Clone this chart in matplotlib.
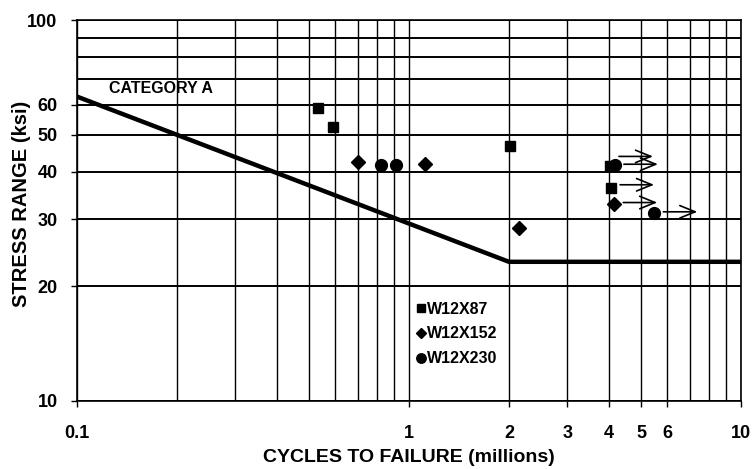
import numpy as np
import matplotlib
matplotlib.use('Agg')
import matplotlib.pyplot as plt
from matplotlib.ticker import FixedLocator, NullFormatter, FixedFormatter
from matplotlib.transforms import offset_copy

plt.rcParams['font.family'] = ['Liberation Sans', 'DejaVu Sans']

# %%
# Category A design curve (cycles in millions, stress range in ksi)
cat_a_cycles = [0.1, 2.0, 10.0]
cat_a_stress = [63.0, 23.2, 23.2]

# test results
w87_cycles = [0.532, 0.589, 2.02, 4.03, 4.06]
w87_stress = [58.8, 52.3, 46.7, 41.3, 36.3]

w152_cycles = [0.703, 1.117, 2.14, 4.15]
w152_stress = [42.5, 41.8, 28.4, 33.0]

w230_cycles = [0.823, 0.914, 4.17, 5.48]
w230_stress = [41.6, 41.6, 41.6, 31.2]

# run-outs (no failure): (series, index)
runouts = [('w87', 3), ('w230', 2), ('w87', 4), ('w152', 3), ('w230', 3)]
runout_lift = [10, 1, 3, 1, 1]  # px, keeps stacked arrows apart

x_ticks = [0.1, 1, 2, 3, 4, 5, 6, 10]
x_grid = [0.1, 0.2, 0.3, 0.4, 0.5, 0.6, 0.7, 0.8, 0.9, 1, 2, 3, 4, 5, 6, 7, 8, 9, 10]
y_ticks = [10, 20, 30, 40, 50, 60, 100]
y_grid = [10, 20, 30, 40, 50, 60, 70, 80, 90, 100]

# %%
fig = plt.figure(figsize=(7.54, 4.69), dpi=100)
ax = fig.add_axes([0.1021, 0.145, 0.8807, 0.812])
ax.set_xscale('log')
ax.set_yscale('log')
ax.set_xlim(0.1, 10)
ax.set_ylim(10, 100)

for gx in x_grid:
    ax.axvline(gx, color='black', lw=1.0, zorder=1)
for gy in y_grid:
    ax.axhline(gy, color='black', lw=1.4, zorder=1)

ax.xaxis.set_major_locator(FixedLocator(x_ticks))
ax.xaxis.set_major_formatter(FixedFormatter([str(t) for t in x_ticks]))
ax.xaxis.set_minor_locator(FixedLocator([]))
ax.xaxis.set_minor_formatter(NullFormatter())
ax.yaxis.set_major_locator(FixedLocator(y_ticks))
ax.yaxis.set_major_formatter(FixedFormatter([str(t) for t in y_ticks]))
ax.yaxis.set_minor_locator(FixedLocator([]))
ax.yaxis.set_minor_formatter(NullFormatter())
ax.tick_params(axis='both', direction='out', length=4, width=1.0, labelsize=13)
ax.tick_params(axis='x', pad=13)
ax.tick_params(axis='y', pad=10)
for lab in ax.get_xticklabels() + ax.get_yticklabels():
    lab.set_fontweight('bold')
for s in ax.spines.values():
    s.set_linewidth(1.2)

ax.plot(cat_a_cycles, cat_a_stress, color='black', lw=3.2, zorder=3)
ax.text(0.125, 66, 'CATEGORY A', fontsize=11.5, fontweight='bold', va='center', zorder=4)

ax.plot(w87_cycles, w87_stress, 's', color='black', ms=7.5, ls='none', label='W12X87', zorder=5)
ax.plot(w152_cycles, w152_stress, 'D', color='black', ms=7, ls='none', label='W12X152', zorder=5)
ax.plot(w230_cycles, w230_stress, 'o', color='black', ms=8.5, ls='none', label='W12X230', zorder=5)

series = {'w87': (w87_cycles, w87_stress),
          'w152': (w152_cycles, w152_stress),
          'w230': (w230_cycles, w230_stress)}
for (name, i), lift in zip(runouts, runout_lift):
    cx, cy = series[name][0][i], series[name][1][i]
    tail = offset_copy(ax.transData, fig=fig, x=9, y=lift, units='dots')
    head = offset_copy(ax.transData, fig=fig, x=43, y=lift, units='dots')
    ax.annotate('', xy=(cx, cy), xycoords=head, xytext=(cx, cy), textcoords=tail,
                arrowprops=dict(arrowstyle='->,head_length=1.1,head_width=0.45',
                                color='black', lw=1.2, shrinkA=0, shrinkB=0),
                zorder=5)

leg = ax.legend(loc='upper left', bbox_to_anchor=(0.503, 0.278), frameon=False,
                handlelength=0.5, handletextpad=0.12, labelspacing=0.62,
                markerscale=0.8, borderaxespad=0, prop={'size': 11.5, 'weight': 'bold'})

ax.set_xlabel('CYCLES TO FAILURE (millions)', fontsize=14, fontweight='bold')
ax.xaxis.set_label_coords(0.5, -0.127)
ax.set_ylabel('STRESS RANGE (ksi)', fontsize=14.5, fontweight='bold')
ax.yaxis.set_label_coords(-0.069, 0.518)

fig.savefig('out.png', dpi=100, facecolor='white')
